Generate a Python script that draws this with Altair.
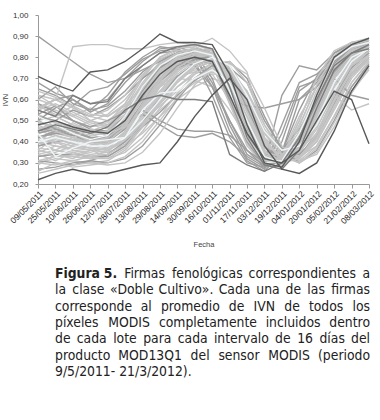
import altair as alt
import pandas as pd

fechas = ["09/05/2011", "25/05/2011", "10/06/2011", "26/06/2011", "12/07/2011",
          "28/07/2011", "13/08/2011", "29/08/2011", "14/09/2011", "30/09/2011",
          "16/10/2011", "01/11/2011", "17/11/2011", "03/12/2011", "19/12/2011",
          "04/01/2012", "20/01/2012", "05/02/2012", "21/02/2012", "08/03/2012"]

y_ticks = [0.2, 0.3, 0.4, 0.5, 0.6, 0.7, 0.8, 0.9, 1.0]

# --- light gray signatures (bottom layer) ---
lote_01 = [0.45, 0.47, 0.44, 0.42, 0.41, 0.48, 0.62, 0.74, 0.80, 0.83, 0.82, 0.66, 0.45, 0.32, 0.30, 0.38, 0.55, 0.74, 0.82, 0.85]
lote_02 = [0.52, 0.50, 0.47, 0.44, 0.45, 0.55, 0.68, 0.78, 0.82, 0.84, 0.80, 0.58, 0.38, 0.29, 0.31, 0.44, 0.62, 0.78, 0.84, 0.86]
lote_03 = [0.38, 0.40, 0.36, 0.35, 0.37, 0.44, 0.56, 0.68, 0.76, 0.80, 0.81, 0.70, 0.50, 0.34, 0.32, 0.36, 0.50, 0.68, 0.79, 0.84]
lote_04 = [0.58, 0.55, 0.52, 0.48, 0.46, 0.52, 0.66, 0.76, 0.81, 0.82, 0.78, 0.60, 0.42, 0.31, 0.33, 0.48, 0.66, 0.80, 0.85, 0.87]
lote_05 = [0.42, 0.44, 0.42, 0.40, 0.39, 0.42, 0.52, 0.64, 0.74, 0.79, 0.80, 0.72, 0.54, 0.37, 0.33, 0.35, 0.46, 0.64, 0.77, 0.83]
lote_06 = [0.34, 0.36, 0.35, 0.33, 0.34, 0.40, 0.50, 0.62, 0.72, 0.78, 0.79, 0.74, 0.57, 0.38, 0.30, 0.33, 0.44, 0.60, 0.75, 0.82]
lote_07 = [0.50, 0.52, 0.48, 0.45, 0.43, 0.46, 0.58, 0.70, 0.78, 0.81, 0.80, 0.64, 0.44, 0.30, 0.28, 0.35, 0.52, 0.72, 0.82, 0.86]
lote_08 = [0.47, 0.43, 0.40, 0.38, 0.40, 0.50, 0.64, 0.75, 0.80, 0.82, 0.81, 0.62, 0.40, 0.28, 0.29, 0.40, 0.58, 0.76, 0.83, 0.85]
lote_09 = [0.55, 0.58, 0.54, 0.50, 0.48, 0.50, 0.60, 0.72, 0.79, 0.83, 0.84, 0.69, 0.47, 0.33, 0.31, 0.39, 0.56, 0.73, 0.81, 0.84]
lote_10 = [0.40, 0.38, 0.37, 0.36, 0.35, 0.38, 0.47, 0.58, 0.68, 0.75, 0.78, 0.73, 0.60, 0.42, 0.34, 0.34, 0.42, 0.58, 0.73, 0.80]
lote_11 = [0.30, 0.32, 0.31, 0.30, 0.31, 0.36, 0.45, 0.56, 0.66, 0.73, 0.77, 0.74, 0.62, 0.44, 0.33, 0.32, 0.40, 0.55, 0.70, 0.79]
lote_12 = [0.62, 0.60, 0.56, 0.52, 0.50, 0.56, 0.70, 0.80, 0.84, 0.85, 0.82, 0.60, 0.39, 0.29, 0.32, 0.50, 0.70, 0.82, 0.86, 0.88]
lote_13 = [0.44, 0.46, 0.45, 0.43, 0.44, 0.52, 0.65, 0.76, 0.81, 0.84, 0.83, 0.67, 0.46, 0.31, 0.29, 0.37, 0.53, 0.72, 0.81, 0.85]
lote_14 = [0.36, 0.34, 0.33, 0.32, 0.33, 0.38, 0.49, 0.60, 0.70, 0.76, 0.79, 0.76, 0.63, 0.46, 0.35, 0.33, 0.38, 0.52, 0.68, 0.78]
lote_15 = [0.48, 0.50, 0.46, 0.41, 0.38, 0.44, 0.59, 0.72, 0.79, 0.82, 0.80, 0.63, 0.43, 0.30, 0.30, 0.42, 0.60, 0.77, 0.84, 0.86]
lote_16 = [0.53, 0.49, 0.45, 0.42, 0.42, 0.48, 0.61, 0.73, 0.79, 0.81, 0.79, 0.65, 0.48, 0.34, 0.31, 0.37, 0.54, 0.74, 0.83, 0.87]
lote_17 = [0.41, 0.45, 0.43, 0.41, 0.42, 0.47, 0.57, 0.67, 0.74, 0.78, 0.78, 0.70, 0.52, 0.36, 0.31, 0.34, 0.48, 0.66, 0.78, 0.83]
lote_18 = [0.57, 0.53, 0.50, 0.47, 0.49, 0.58, 0.71, 0.80, 0.84, 0.86, 0.84, 0.66, 0.44, 0.31, 0.30, 0.41, 0.59, 0.77, 0.84, 0.86]
lote_19 = [0.33, 0.35, 0.38, 0.37, 0.36, 0.41, 0.53, 0.66, 0.75, 0.80, 0.81, 0.71, 0.51, 0.35, 0.32, 0.38, 0.54, 0.73, 0.82, 0.85]
lote_20 = [0.46, 0.42, 0.39, 0.37, 0.36, 0.40, 0.51, 0.63, 0.73, 0.79, 0.81, 0.75, 0.58, 0.39, 0.31, 0.32, 0.43, 0.61, 0.76, 0.82]
lote_59 = [0.36, 0.42, 0.39, 0.44, 0.40, 0.43, 0.50, 0.58, 0.66, 0.72, 0.76, 0.70, 0.55, 0.36, 0.30, 0.36, 0.47, 0.63, 0.76, 0.82]
lote_60 = [0.58, 0.52, 0.57, 0.50, 0.53, 0.60, 0.70, 0.77, 0.81, 0.80, 0.76, 0.58, 0.40, 0.30, 0.34, 0.52, 0.66, 0.78, 0.84, 0.87]
lote_61 = [0.29, 0.34, 0.32, 0.36, 0.33, 0.38, 0.44, 0.52, 0.60, 0.66, 0.70, 0.67, 0.55, 0.40, 0.32, 0.31, 0.38, 0.52, 0.66, 0.76]
lote_62 = [0.48, 0.44, 0.49, 0.45, 0.48, 0.56, 0.63, 0.68, 0.70, 0.69, 0.66, 0.55, 0.42, 0.31, 0.30, 0.40, 0.58, 0.74, 0.80, 0.84]
lote_63 = [0.62, 0.57, 0.52, 0.56, 0.52, 0.57, 0.66, 0.74, 0.79, 0.81, 0.80, 0.68, 0.50, 0.35, 0.32, 0.39, 0.54, 0.70, 0.79, 0.83]
lote_64 = [0.34, 0.31, 0.35, 0.32, 0.36, 0.41, 0.48, 0.55, 0.62, 0.68, 0.72, 0.72, 0.64, 0.48, 0.36, 0.33, 0.40, 0.56, 0.71, 0.79]
lote_65 = [0.45, 0.50, 0.46, 0.50, 0.47, 0.50, 0.56, 0.64, 0.70, 0.74, 0.74, 0.66, 0.52, 0.37, 0.33, 0.42, 0.58, 0.72, 0.79, 0.82]
lote_66 = [0.40, 0.36, 0.40, 0.38, 0.42, 0.50, 0.60, 0.66, 0.71, 0.73, 0.72, 0.60, 0.45, 0.33, 0.29, 0.34, 0.50, 0.70, 0.81, 0.86]

# --- medium gray signatures ---
lote_21 = [0.56, 0.60, 0.62, 0.58, 0.60, 0.70, 0.78, 0.84, 0.85, 0.82, 0.70, 0.48, 0.32, 0.27, 0.40, 0.64, 0.70, 0.79, 0.85, 0.88]
lote_22 = [0.60, 0.66, 0.58, 0.55, 0.62, 0.73, 0.80, 0.85, 0.84, 0.78, 0.62, 0.42, 0.30, 0.28, 0.48, 0.68, 0.72, 0.80, 0.86, 0.88]
lote_23 = [0.50, 0.56, 0.60, 0.54, 0.58, 0.68, 0.76, 0.82, 0.83, 0.80, 0.66, 0.45, 0.31, 0.26, 0.35, 0.60, 0.68, 0.78, 0.84, 0.87]
lote_24 = [0.65, 0.62, 0.57, 0.64, 0.66, 0.72, 0.79, 0.83, 0.84, 0.80, 0.68, 0.50, 0.36, 0.28, 0.44, 0.66, 0.69, 0.80, 0.85, 0.89]
lote_25 = [0.38, 0.40, 0.41, 0.40, 0.42, 0.48, 0.53, 0.48, 0.43, 0.42, 0.44, 0.40, 0.33, 0.28, 0.31, 0.40, 0.56, 0.72, 0.80, 0.83]
lote_26 = [0.42, 0.44, 0.43, 0.41, 0.43, 0.49, 0.55, 0.50, 0.46, 0.45, 0.45, 0.43, 0.36, 0.30, 0.34, 0.44, 0.58, 0.74, 0.81, 0.84]
lote_27 = [0.90, 0.84, 0.78, 0.72, 0.68, 0.70, 0.74, 0.78, 0.82, 0.84, 0.82, 0.65, 0.45, 0.32, 0.30, 0.40, 0.58, 0.76, 0.83, 0.85]
lote_28 = [0.44, 0.46, 0.44, 0.42, 0.42, 0.47, 0.58, 0.69, 0.76, 0.79, 0.78, 0.60, 0.57, 0.56, 0.58, 0.60, 0.66, 0.76, 0.82, 0.85]
lote_29 = [0.45, 0.47, 0.45, 0.42, 0.41, 0.46, 0.58, 0.70, 0.77, 0.80, 0.79, 0.66, 0.47, 0.33, 0.31, 0.38, 0.55, 0.70, 0.62, 0.60]
lote_30 = [0.42, 0.45, 0.43, 0.40, 0.40, 0.46, 0.58, 0.70, 0.77, 0.80, 0.80, 0.67, 0.48, 0.34, 0.31, 0.37, 0.53, 0.71, 0.80, 0.84]
lote_31 = [0.50, 0.46, 0.43, 0.41, 0.42, 0.50, 0.64, 0.75, 0.80, 0.82, 0.80, 0.61, 0.42, 0.30, 0.30, 0.41, 0.60, 0.77, 0.84, 0.86]
lote_32 = [0.33, 0.34, 0.34, 0.33, 0.33, 0.38, 0.49, 0.61, 0.71, 0.77, 0.79, 0.73, 0.56, 0.38, 0.31, 0.33, 0.44, 0.61, 0.75, 0.82]
lote_33 = [0.58, 0.54, 0.50, 0.46, 0.45, 0.52, 0.66, 0.77, 0.82, 0.84, 0.82, 0.64, 0.43, 0.31, 0.31, 0.43, 0.62, 0.79, 0.85, 0.87]
lote_34 = [0.27, 0.28, 0.30, 0.31, 0.30, 0.32, 0.38, 0.48, 0.60, 0.70, 0.76, 0.78, 0.70, 0.52, 0.36, 0.30, 0.36, 0.50, 0.66, 0.77]
lote_35 = [0.52, 0.50, 0.55, 0.52, 0.56, 0.62, 0.70, 0.76, 0.78, 0.76, 0.66, 0.50, 0.34, 0.29, 0.62, 0.76, 0.74, 0.82, 0.86, 0.88]
lote_67 = [0.53, 0.57, 0.50, 0.47, 0.50, 0.54, 0.61, 0.69, 0.75, 0.78, 0.77, 0.64, 0.46, 0.34, 0.36, 0.46, 0.60, 0.73, 0.80, 0.84]
lote_68 = [0.31, 0.30, 0.29, 0.31, 0.34, 0.40, 0.47, 0.54, 0.62, 0.69, 0.74, 0.75, 0.68, 0.50, 0.37, 0.34, 0.42, 0.58, 0.72, 0.80]
lote_69 = [0.68, 0.63, 0.60, 0.55, 0.57, 0.64, 0.73, 0.79, 0.82, 0.83, 0.79, 0.60, 0.40, 0.29, 0.35, 0.55, 0.71, 0.82, 0.87, 0.88]

# --- light gray signatures (upper layer) ---
lote_36 = [0.56, 0.60, 0.85, 0.86, 0.86, 0.84, 0.84, 0.86, 0.87, 0.86, 0.83, 0.65, 0.42, 0.30, 0.31, 0.45, 0.64, 0.79, 0.85, 0.87]
lote_37 = [0.60, 0.57, 0.53, 0.49, 0.47, 0.53, 0.67, 0.77, 0.82, 0.84, 0.82, 0.62, 0.41, 0.30, 0.32, 0.47, 0.67, 0.81, 0.86, 0.88]
lote_38 = [0.35, 0.38, 0.36, 0.34, 0.35, 0.43, 0.55, 0.67, 0.75, 0.80, 0.81, 0.69, 0.49, 0.33, 0.30, 0.37, 0.53, 0.71, 0.80, 0.84]
lote_39 = [0.43, 0.40, 0.38, 0.36, 0.37, 0.45, 0.58, 0.70, 0.77, 0.81, 0.81, 0.68, 0.47, 0.32, 0.29, 0.36, 0.52, 0.70, 0.80, 0.85]
lote_40 = [0.49, 0.47, 0.44, 0.40, 0.40, 0.47, 0.60, 0.71, 0.78, 0.82, 0.82, 0.67, 0.47, 0.33, 0.31, 0.40, 0.57, 0.75, 0.83, 0.86]
lote_41 = [0.31, 0.33, 0.33, 0.32, 0.32, 0.37, 0.47, 0.59, 0.69, 0.76, 0.79, 0.75, 0.60, 0.41, 0.32, 0.33, 0.41, 0.57, 0.72, 0.80]
lote_42 = [0.55, 0.52, 0.48, 0.45, 0.44, 0.49, 0.63, 0.74, 0.80, 0.83, 0.82, 0.66, 0.45, 0.32, 0.30, 0.38, 0.56, 0.75, 0.83, 0.86]
lote_43 = [0.39, 0.41, 0.39, 0.37, 0.38, 0.45, 0.57, 0.69, 0.77, 0.81, 0.82, 0.71, 0.50, 0.34, 0.31, 0.35, 0.49, 0.67, 0.79, 0.84]
lote_44 = [0.46, 0.49, 0.47, 0.44, 0.45, 0.51, 0.63, 0.73, 0.79, 0.82, 0.81, 0.68, 0.49, 0.35, 0.33, 0.39, 0.55, 0.72, 0.81, 0.85]
lote_45 = [0.37, 0.36, 0.34, 0.33, 0.34, 0.39, 0.48, 0.59, 0.69, 0.75, 0.78, 0.74, 0.59, 0.40, 0.32, 0.33, 0.42, 0.59, 0.74, 0.81]
lote_46 = [0.64, 0.61, 0.57, 0.53, 0.52, 0.58, 0.71, 0.80, 0.84, 0.86, 0.84, 0.63, 0.41, 0.30, 0.33, 0.50, 0.70, 0.83, 0.87, 0.89]
lote_47 = [0.40, 0.43, 0.41, 0.39, 0.39, 0.44, 0.55, 0.66, 0.74, 0.78, 0.79, 0.70, 0.51, 0.35, 0.31, 0.35, 0.48, 0.62, 0.55, 0.58]
lote_48 = [0.40, 0.42, 0.41, 0.40, 0.42, 0.48, 0.60, 0.72, 0.80, 0.85, 0.89, 0.83, 0.73, 0.42, 0.30, 0.32, 0.44, 0.62, 0.76, 0.83]
lote_49 = [0.25, 0.27, 0.29, 0.30, 0.29, 0.30, 0.35, 0.44, 0.56, 0.67, 0.74, 0.77, 0.72, 0.56, 0.38, 0.31, 0.34, 0.47, 0.63, 0.75]
lote_50 = [0.30, 0.29, 0.31, 0.33, 0.32, 0.35, 0.42, 0.52, 0.63, 0.72, 0.77, 0.78, 0.68, 0.48, 0.34, 0.30, 0.37, 0.52, 0.68, 0.78]
lote_70 = [0.43, 0.39, 0.42, 0.46, 0.44, 0.47, 0.53, 0.61, 0.69, 0.75, 0.78, 0.71, 0.54, 0.38, 0.34, 0.38, 0.50, 0.66, 0.76, 0.81]
lote_71 = [0.26, 0.30, 0.28, 0.29, 0.30, 0.33, 0.40, 0.50, 0.61, 0.70, 0.75, 0.74, 0.64, 0.45, 0.33, 0.30, 0.35, 0.49, 0.64, 0.74]
lote_72 = [0.50, 0.45, 0.42, 0.39, 0.37, 0.41, 0.49, 0.57, 0.64, 0.70, 0.73, 0.70, 0.60, 0.44, 0.36, 0.36, 0.44, 0.60, 0.74, 0.81]
lote_73 = [0.55, 0.60, 0.56, 0.52, 0.55, 0.62, 0.72, 0.79, 0.83, 0.84, 0.80, 0.62, 0.42, 0.31, 0.31, 0.42, 0.60, 0.76, 0.84, 0.87]

# --- near-white signatures ---
lote_51 = [0.44, 0.33, 0.37, 0.40, 0.41, 0.42, 0.55, 0.63, 0.64, 0.70, 0.74, 0.68, 0.50, 0.33, 0.30, 0.36, 0.50, 0.68, 0.80, 0.84]
lote_52 = [0.40, 0.42, 0.40, 0.38, 0.38, 0.42, 0.50, 0.60, 0.70, 0.77, 0.80, 0.76, 0.62, 0.45, 0.36, 0.38, 0.48, 0.64, 0.78, 0.84]
lote_53 = [0.52, 0.48, 0.44, 0.41, 0.43, 0.52, 0.66, 0.76, 0.81, 0.83, 0.81, 0.64, 0.42, 0.30, 0.31, 0.44, 0.62, 0.79, 0.85, 0.87]

# --- darker signatures (top layers) ---
lote_57 = [0.55, 0.52, 0.62, 0.58, 0.59, 0.70, 0.76, 0.82, 0.85, 0.86, 0.84, 0.66, 0.42, 0.29, 0.27, 0.36, 0.56, 0.74, 0.82, 0.86]
lote_58 = [0.45, 0.48, 0.46, 0.44, 0.47, 0.55, 0.60, 0.62, 0.60, 0.60, 0.59, 0.34, 0.29, 0.26, 0.30, 0.42, 0.60, 0.76, 0.82, 0.84]
lote_54 = [0.22, 0.25, 0.27, 0.25, 0.25, 0.27, 0.29, 0.30, 0.40, 0.52, 0.62, 0.70, 0.60, 0.38, 0.27, 0.25, 0.30, 0.45, 0.64, 0.76]
lote_55 = [0.71, 0.67, 0.64, 0.73, 0.74, 0.78, 0.84, 0.91, 0.87, 0.87, 0.86, 0.72, 0.48, 0.30, 0.28, 0.40, 0.62, 0.80, 0.86, 0.89]
lote_56 = [0.48, 0.50, 0.47, 0.45, 0.44, 0.50, 0.62, 0.72, 0.78, 0.80, 0.78, 0.62, 0.44, 0.32, 0.30, 0.36, 0.50, 0.64, 0.60, 0.39]

capa_1 = [lote_01, lote_02, lote_03, lote_04, lote_05, lote_06, lote_07, lote_08, lote_09, lote_10,
          lote_11, lote_12, lote_13, lote_14, lote_15, lote_16, lote_17, lote_18, lote_19, lote_20,
          lote_59, lote_60, lote_61, lote_62, lote_63, lote_64, lote_65, lote_66]
capa_2 = [lote_21, lote_22, lote_23, lote_24, lote_25, lote_26, lote_27, lote_28, lote_29, lote_30,
          lote_31, lote_32, lote_33, lote_34, lote_35, lote_67, lote_68, lote_69]
capa_3 = [lote_36, lote_37, lote_38, lote_39, lote_40, lote_41, lote_42, lote_43, lote_44, lote_45,
          lote_46, lote_47, lote_48, lote_49, lote_50, lote_70, lote_71, lote_72, lote_73]
capa_4 = [lote_51, lote_52, lote_53]
capa_5 = [lote_57, lote_58]
capa_6 = [lote_54, lote_55, lote_56]

grupos = [(1, "claro", capa_1), (2, "medio", capa_2), (3, "claro", capa_3),
          (4, "blanco", capa_4), (5, "oscuro2", capa_5), (6, "oscuro", capa_6)]

rows = []
n = 0
for capa, tono, lista in grupos:
    for vals in lista:
        n += 1
        for f, v in zip(fechas, vals):
            rows.append({"lote": f"lote{n}", "tono": tono, "capa": capa, "fecha": f, "ivn": v})
df = pd.DataFrame(rows)

tick_font = "Liberation Sans"
cap_font = "DejaVu Sans Condensed, sans-serif"

x_enc = alt.X("fecha:N", sort=fechas,
              scale=alt.Scale(type="point", padding=0),
              axis=alt.Axis(title="Fecha", labelAngle=-45, labelFontSize=8.5, labelFont=tick_font,
                            labelColor="#222", labelPadding=1, tickSize=4, tickColor="#999",
                            domainColor="#999", titleFont=tick_font, titleFontSize=7.5,
                            titleFontWeight="normal", titleColor="#444", titlePadding=15,
                            grid=False))
y_enc = alt.Y("ivn:Q",
              scale=alt.Scale(domain=[0.2, 1.0], nice=False, zero=False),
              axis=alt.Axis(title="IVN", values=y_ticks,
                            labelExpr="replace(format(datum.value, '.2f'), '.', ',')",
                            labelFontSize=8, labelFont=tick_font, labelColor="#333",
                            labelPadding=7, tickSize=3, tickColor="#999", domainColor="#999",
                            titleFont=tick_font, titleFontSize=7.5, titleFontWeight="normal",
                            titleColor="#444", titlePadding=3, grid=False))
color_enc = alt.Color("tono:N",
                      scale=alt.Scale(domain=["claro", "medio", "oscuro2", "oscuro", "blanco"],
                                      range=["#c4c4c4", "#9e9e9e", "#7c7c7c", "#585858", "#eef5f7"]),
                      legend=None)

base = alt.Chart(df).mark_line(strokeWidth=1.4).encode(
    x=x_enc, y=y_enc, color=color_enc, detail="lote:N")

line_layers = [base.transform_filter(alt.datum.capa == k) for k in [1, 2, 3, 4, 5, 6]]

# ---------------- caption (justified by estimating word widths) ----------------
caption_lines = ["Figura 5. Firmas fenológicas correspondientes a",
                 "la clase «Doble Cultivo». Cada una de las firmas",
                 "corresponde al promedio de IVN de todos los",
                 "píxeles MODIS completamente incluidos dentro",
                 "de cada lote para cada intervalo de 16 días del",
                 "producto MOD13Q1 del sensor MODIS (periodo",
                 "9/5/2011- 21/3/2012)."]
bold_words = ["Figura", "5."]

CAP_SIZE = 13.8
COND = 0.89
em = {}
for ch in "il.,:;'!í|":
    em[ch] = 0.278
for ch, v in {"f": 0.352, "t": 0.392, "r": 0.411, "(": 0.39, ")": 0.39, "/": 0.337,
              "-": 0.361, "I": 0.295, "m": 0.974, "M": 0.863, "w": 0.818, "W": 0.989,
              "«": 0.557, "»": 0.557, "D": 0.770, "C": 0.698, "O": 0.787, "Q": 0.787,
              "S": 0.635, "V": 0.684, "F": 0.575, "N": 0.748, "s": 0.521, "c": 0.550,
              "v": 0.592, "j": 0.278}.items():
    em[ch] = v
for ch in "0123456789":
    em[ch] = 0.636


def word_width(w, bold=False):
    tot = 0.0
    for ch in w:
        tot += em.get(ch, 0.70 if ch.isupper() else 0.615)
    if bold:
        tot *= 1.1
    return tot * CAP_SIZE * COND


X0, X1 = 17, 332
text_layers = []
for i, line in enumerate(caption_lines):
    yy = 263 + 16.3 * i
    parts = line.split(" ")
    if i == len(caption_lines) - 1:
        placed = [(line, "left", X0, "normal")]
    else:
        wts = ["bold" if (i == 0 and w in bold_words) else "normal" for w in parts]
        widths = [word_width(w, wt == "bold") for w, wt in zip(parts, wts)]
        gap = (X1 - X0 - sum(widths)) / (len(parts) - 1)
        placed = []
        cur = X0
        for j, (w, wd, wt) in enumerate(zip(parts, widths, wts)):
            if j == 0:
                placed.append((w, "left", X0, wt))
            elif j == len(parts) - 1:
                placed.append((w, "right", X1, wt))
            else:
                placed.append((w, "center", cur + wd / 2, wt))
            cur += wd + gap
    for w, al, xx, wt in placed:
        text_layers.append(
            alt.Chart(pd.DataFrame({"t": [w]})).mark_text(
                align=al, baseline="alphabetic", font=cap_font, fontSize=CAP_SIZE,
                color="#222", fontWeight=wt)
            .encode(text="t:N", x=alt.value(xx), y=alt.value(yy)))

chart = alt.layer(*line_layers, *text_layers).properties(
    width=331, height=169,
    autosize=alt.AutoSizeParams(type="none"),
    padding={"left": 38, "top": 15, "right": 11, "bottom": 236},
    background="white",
).configure_view(strokeWidth=0)

chart.save("out.html", embed_options={"renderer": "svg", "actions": False})
